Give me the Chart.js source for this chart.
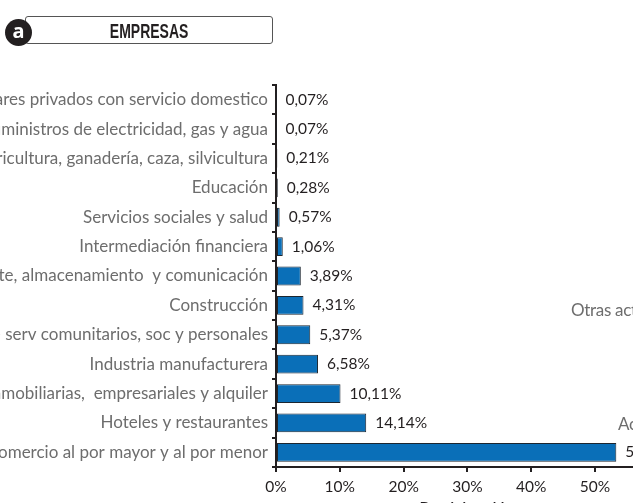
<!DOCTYPE html>
<html>
<head>
<meta charset="utf-8">
<script src="https://cdn.jsdelivr.net/npm/chart.js@4"></script>
<style>
  html, body { margin: 0; padding: 0; background: #fff; overflow: hidden; width: 633px; height: 503px; }
  #wrap { position: absolute; left: -100px; top: 0; width: 780px; height: 524px; }
  #titulo {
    position: absolute; left: 25px; top: 16px; width: 246px; height: 26px;
    border: 1.5px solid #555; border-radius: 3px; background: #fff;
    font-family: "Liberation Sans", sans-serif;
    font-weight: bold; font-size: 20px; color: #231f20;
    text-align: center; line-height: 28px;
  }
  #titulo span { display: inline-block; transform: scaleX(0.7); }
  #letra {
    position: absolute; left: 5px; top: 19px; width: 27px; height: 27px;
    border-radius: 50%; background: #231f20; color: #fff;
    font-family: "Noto Sans", sans-serif; font-weight: bold; font-size: 20px;
    text-align: center; line-height: 24px;
  }
  .suelto { position: absolute; font-family: Lato, "Noto Sans", sans-serif; font-size: 17px; color: #6d6d6d; white-space: nowrap; letter-spacing: -0.3px; }
</style>
</head>
<body>
<div id="wrap"><canvas id="grafico"></canvas></div>
<div id="titulo"><span>EMPRESAS</span></div>
<div id="letra">a</div>
<div class="suelto" style="left:571px; top:299px;">Otras actividades</div>
<div class="suelto" style="left:618px; top:413px;">Actividades</div>
<script>
// sectores (de arriba hacia abajo)
const sectores = [
  'Hogares privados con servicio domestico',
  'Suministros de electricidad, gas y agua',
  'Agricultura, ganadería, caza, silvicultura',
  'Educación',
  'Servicios sociales y salud',
  'Intermediación financiera',
  'Transporte, almacenamiento  y comunicación',
  'Construcción',
  'Otras actividades de serv comunitarios, soc y personales',
  'Industria manufacturera',
  'Actividades inmobiliarias,  empresariales y alquiler',
  'Hoteles y restaurantes',
  'Comercio al por mayor y al por menor'
];
// participación en %
const participacion = [0.07, 0.07, 0.21, 0.28, 0.57, 1.06, 3.89, 4.31, 5.37, 6.58, 10.11, 14.14, 53.34];
const ticksX = [0, 10, 20, 30, 40, 50, 60];

const fuente = 'Lato, "Noto Sans", sans-serif';

// etiquetas de valor al final de cada barra
const etiquetas = {
  id: 'etiquetas',
  afterDatasetsDraw(chart) {
    const ctx = chart.ctx;
    const meta = chart.getDatasetMeta(0);
    ctx.save();
    ctx.font = '15.5px ' + fuente;
    ctx.fillStyle = '#231f20';
    ctx.textAlign = 'left';
    ctx.textBaseline = 'middle';
    meta.data.forEach((bar, i) => {
      const txt = participacion[i].toFixed(2).replace('.', ',') + '%';
      ctx.fillText(txt, bar.x + 9, bar.y);
    });
    ctx.restore();
  }
};

const ctx = document.getElementById('grafico').getContext('2d');
new Chart(ctx, {
  type: 'bar',
  data: {
    labels: sectores,
    datasets: [{
      data: participacion,
      backgroundColor: '#0a6fb8',
      borderColor: '#1c2630',
      borderWidth: 1,
      borderSkipped: false,
      categoryPercentage: 1,
      barPercentage: 0.64
    }]
  },
  options: {
    indexAxis: 'y',
    responsive: true,
    maintainAspectRatio: false,
    animation: false,
    layout: { padding: { top: 85, left: 0, right: 21, bottom: 0 } },
    plugins: { legend: { display: false }, tooltip: { enabled: false } },
    scales: {
      y: {
        offset: true,
        afterFit(scale) { scale.width = 376; },
        border: { color: '#231f20', width: 2 },
        grid: { drawOnChartArea: false, drawTicks: true, tickLength: 4, offset: true, color: '#231f20', lineWidth: 2 },
        ticks: { color: '#6d6d6d', font: { family: fuente, size: 17 }, padding: 4, autoSkip: false }
      },
      x: {
        min: 0,
        max: 60,
        afterBuildTicks(scale) { scale.ticks = ticksX.map(v => ({ value: v })); },
        afterFit(scale) { scale.height = 57; },
        border: { color: '#231f20', width: 2 },
        grid: { drawOnChartArea: false, drawTicks: true, tickLength: 5, color: '#231f20', lineWidth: 2 },
        ticks: {
          color: '#231f20',
          font: { family: fuente, size: 15.5 },
          padding: 6,
          callback: v => v + '%'
        },
        title: { display: true, text: 'Participación', color: '#231f20', font: { family: fuente, size: 17 }, padding: { top: 4 } }
      }
    }
  },
  plugins: [etiquetas]
});
</script>
</body>
</html>
